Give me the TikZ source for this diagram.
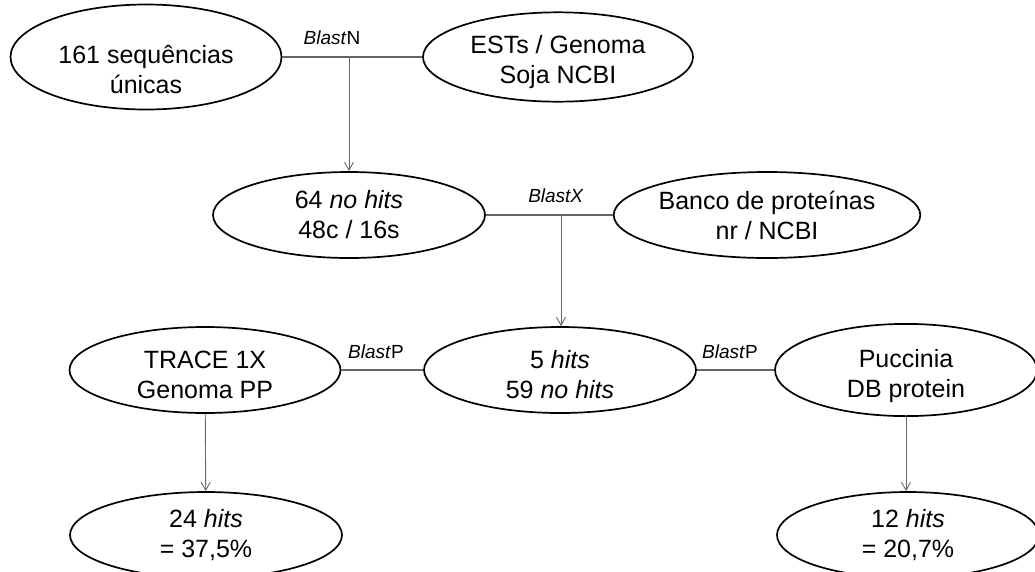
\documentclass[tikz,border=0pt]{standalone}
\usepackage{fontspec}
\setmainfont{Liberation Sans}
\usetikzlibrary{shapes.geometric,arrows.meta}
\newcommand{\lowr}[1]{\rule{0pt}{#1}}
\begin{document}
\begin{tikzpicture}[x=1pt,y=-1pt,
  oval/.style={ellipse,draw=black,line width=1.7pt,inner sep=0pt,align=center,
    minimum height=86pt,font=\fontsize{25}{30}\selectfont},
  link/.style={draw=black!60,line width=1.2pt},
  arr/.style={draw=black!60,line width=0.9pt,-{Straight Barb[length=8pt,width=9pt]}},
  lbl/.style={font=\fontsize{19}{22}\selectfont,inner sep=0pt}]
\useasboundingbox (0,0) rectangle (1035,571);
\clip (0,0) rectangle (1035,571);
\node[oval,minimum width=271pt] (e1) at (146,57) {\lowr{44pt}161 sequências\\únicas};
\node[oval,minimum width=270pt] (e2) at (558,57) {\lowr{28pt}ESTs / Genoma\\Soja NCBI};
\node[oval,minimum width=272pt] (e3) at (349,215) {64 \textit{no hits}\\48c / 16s};
\node[oval,minimum width=270pt] (e4) at (767,215) {Banco de proteínas\\nr / NCBI};
\node[oval,minimum width=272pt] (e5) at (560,370) {\lowr{28pt}5 \textit{hits}\\59 \textit{no hits}};
\node[oval,minimum width=271pt] (e6) at (205,370) {\lowr{28pt}TRACE 1X\\Genoma PP};
\node[oval,minimum width=262pt] (e7) at (906,370) {\lowr{30pt}Puccinia\\DB protein};
\node[oval,minimum width=272pt] (e8) at (206,535) {24 \textit{hits}\\= 37,5\%};
\node[oval,minimum width=262pt] (e9) at (908,535) {12 \textit{hits}\\= 20,7\%};
\draw[link] (e1) -- (e2);
\draw[link] (e3) -- (e4);
\draw[link] (e6) -- (e5);
\draw[link] (e5) -- (e7);
\coordinate (j1) at (349,57);
\coordinate (j2) at (561,215);
\draw[arr] (j1) -- (j1 |- e3.north);
\draw[arr] (j2) -- (j2 |- e5.north);
\draw[arr] (e6) -- (e8);
\draw[arr] (e7.south) -- (e7.south |- e9.north);
\node[lbl] (l1) at (332,38) {\textit{Blast}N};
\node[lbl] (l2) at (556,196) {\textit{BlastX}};
\node[lbl] (l3) at (376,352) {\textit{Blast}P};
\node[lbl] (l4) at (730,352) {\textit{Blast}P};
\end{tikzpicture}
\end{document}
